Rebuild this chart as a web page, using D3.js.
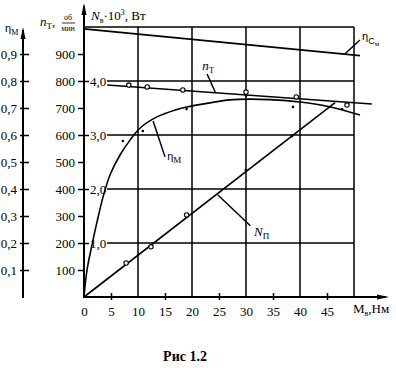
<!DOCTYPE html>
<html><head><meta charset="utf-8">
<script src="https://cdn.jsdelivr.net/npm/d3@7"></script>
<style>body{margin:0;background:#fff}svg{display:block}text{font-family:"Liberation Serif","Times New Roman",serif;fill:#000}</style>
</head><body><svg id="c" width="396" height="368"></svg>
<script>
// ---- data ----
const xTicks = [0,5,10,15,20,25,30,35,40,45];
const xGrid = [10,20,30,40,50];
const nTicks = [100,200,300,400,500,600,700,800,900];
const etaTicks = [0.1,0.2,0.3,0.4,0.5,0.6,0.7,0.8,0.9];
const pTicks = [1,2,3,4];
const pTickLabels = ["1,0","2,0","3,0","4,0"];
const etaTickLabels = ["0,1","0,2","0,3","0,4","0,5","0,6","0,7","0,8","0,9"];

// eta_M curve (M, eta)
const etaM_x = [0,0.56,1.48,2.41,3.52,4.81,6.67,8.52,10.4,13.5,16.9,19.1,23.3,27.0,30.7,34.4,40.0,45.6,51.1];
const etaM_y = [0,0.10,0.193,0.278,0.370,0.452,0.526,0.581,0.626,0.667,0.693,0.704,0.719,0.730,0.733,0.731,0.722,0.704,0.674];
// eta_M experimental points
const etaPts_x = [7.2,10.9,19.0,30.0,38.7,47.8];
const etaPts_y = [0.578,0.615,0.696,0.745,0.704,0.696];
// n_T line (M, rpm)
const nT_x = [4.3,53.3];
const nT_y = [785,715];
const nTPts_x = [8.3,11.7,18.3,30.0,39.3,48.7];
const nTPts_y = [785,778,767,759,741,711];
// N_P line (M, kW)
const NP_x = [0,46.5];
const NP_y = [0,3.6];
const NPcirc_x = [7.8,12.4,19.0];
const NPcirc_y = [0.63,0.93,1.52];
const NPdot_x = [30.0,38.5];
const NPdot_y = [2.35,2.98];
// eta_Cm line
const etaC_x = [0,51.1];
const etaC_y = [0.993,0.894];

// ---- scales ----
const svg = d3.select("#c");
const x = d3.scaleLinear([0,50],[84,354]);
const yN = d3.scaleLinear([0,1000],[297,27]);
const yE = d3.scaleLinear([0,1],[297,27]);
const yP = d3.scaleLinear([0,5],[297,27]);
const X0 = x(0), Y0 = yN(0);
const axE = 23;

const line = (xs, ys, ys2, curve) => d3.line().x((d,i)=>x(xs[i])).y((d,i)=>ys2(ys[i])).curve(curve||d3.curveLinear)(xs);

// grid
const g = svg.append("g").attr("stroke","#000").attr("stroke-width",1.5);
xGrid.forEach(v => g.append("line").attr("x1",x(v)).attr("x2",x(v)).attr("y1",Y0).attr("y2",yN(1000)));
g.append("line").attr("x1",X0).attr("x2",x(50)).attr("y1",yN(1000)).attr("y2",yN(1000));
pTicks.forEach(v => g.append("line").attr("x1",X0+23).attr("x2",x(50)).attr("y1",yP(v)).attr("y2",yP(v)));

// n_T axis (left, labels)
const aN = svg.append("g").attr("transform",`translate(${X0},0)`)
  .call(d3.axisLeft(yN).tickValues(nTicks).tickSize(6).tickPadding(3).tickFormat(d=>d));
aN.select(".domain").remove();
aN.selectAll("line").attr("stroke","#000").attr("stroke-width",1.5);
aN.selectAll("text").attr("font-size",13).style("font-family","Liberation Serif");
// N axis (right side ticks)
const aP = svg.append("g").attr("transform",`translate(${X0},0)`)
  .call(d3.axisRight(yP).tickValues(pTicks).tickSize(5).tickPadding(1).tickFormat((d,i)=>pTickLabels[i]));
aP.select(".domain").remove();
aP.selectAll("line").attr("stroke","#000").attr("stroke-width",1.5);
aP.selectAll("text").attr("font-size",13).style("font-family","Liberation Serif");

// eta axis
const aE = svg.append("g").attr("transform",`translate(${axE},0)`)
  .call(d3.axisLeft(yE).tickValues(etaTicks).tickSize(3).tickPadding(3).tickFormat((d,i)=>etaTickLabels[i]));
aE.select(".domain").remove();
aE.selectAll("line").attr("stroke","#000").attr("stroke-width",1.5).attr("x2",6).attr("x1",-3);
aE.selectAll("text").attr("font-size",13).style("font-family","Liberation Serif");

// x axis
const aX = svg.append("g").attr("transform",`translate(0,${Y0})`)
  .call(d3.axisBottom(x).tickValues(xTicks).tickSize(0).tickPadding(10).tickFormat(d=>d));
aX.select(".domain").remove();
aX.selectAll("text").attr("font-size",13).style("font-family","Liberation Serif");
aX.selectAll(".tick").each(function(d){ if(d%10===5) d3.select(this).append("line").attr("y1",-4).attr("y2",3).attr("stroke","#000").attr("stroke-width",1.5); });

// axis lines with arrows
const ax = svg.append("g").attr("stroke","#000").attr("stroke-width",2);
ax.append("line").attr("x1",X0).attr("x2",386).attr("y1",Y0).attr("y2",Y0);
ax.append("line").attr("x1",X0).attr("x2",X0).attr("y1",Y0+1).attr("y2",6);
ax.append("line").attr("x1",axE).attr("x2",axE).attr("y1",Y0+1).attr("y2",30);
const arrow = (pts) => svg.append("path").attr("d","M"+pts.join("L")+"Z").attr("fill","#000");
arrow([[389,Y0],[377,Y0-2.5],[377,Y0+2.5]]);
arrow([[X0,3],[X0-2.5,15],[X0+2.5,15]]);
arrow([[axE,27],[axE-2.5,39],[axE+2.5,39]]);

// curves
const c = svg.append("g").attr("fill","none").attr("stroke","#000").attr("stroke-width",1.6);
c.append("path").attr("d",line(etaC_x,etaC_y,yE));
c.append("path").attr("d",line(nT_x,nT_y,yN));
c.append("path").attr("d",line(NP_x,NP_y,yP));
c.append("path").attr("d",line(etaM_x,etaM_y,yE,d3.curveCatmullRom));

// points
const p = svg.append("g");
nTPts_x.forEach((v,i)=>p.append("circle").attr("cx",x(v)).attr("cy",yN(nTPts_y[i])).attr("r",2.2).attr("fill","#fff").attr("stroke","#000").attr("stroke-width",1.1));
NPcirc_x.forEach((v,i)=>p.append("circle").attr("cx",x(v)).attr("cy",yP(NPcirc_y[i])).attr("r",2.2).attr("fill","#fff").attr("stroke","#000").attr("stroke-width",1.1));
NPdot_x.forEach((v,i)=>p.append("circle").attr("cx",x(v)).attr("cy",yP(NPdot_y[i])).attr("r",1.5).attr("fill","#000"));
etaPts_x.forEach((v,i)=>p.append("circle").attr("cx",x(v)).attr("cy",yE(etaPts_y[i])).attr("r",1.3).attr("fill","#000"));

// leaders
const L = svg.append("g").attr("stroke","#000").attr("stroke-width",1.5);
L.append("line").attr("x1",x(22.8)).attr("y1",yN(826)).attr("x2",x(24.3)).attr("y2",yN(759));
L.append("line").attr("x1",x(12.8)).attr("y1",yE(0.652)).attr("x2",x(15.0)).attr("y2",yE(0.519));
L.append("line").attr("x1",x(24.8)).attr("y1",yP(1.89)).attr("x2",x(30.8)).attr("y2",yP(1.32));
L.append("line").attr("x1",x(48.3)).attr("y1",yE(0.90)).attr("x2",x(51.1)).attr("y2",yE(0.952));

// labels
function lab(px,py,parts){
  const t = svg.append("text").attr("x",px).attr("y",py).attr("font-size",13);
  parts.forEach(pt=>{
    const s = t.append("tspan").text(pt.t);
    if(pt.i) s.attr("font-style","italic");
    if(pt.dy) s.attr("dy",pt.dy);
    if(pt.fs) s.attr("font-size",pt.fs);
    if(pt.f) s.style("font-family",pt.f);
  });
  return t;
}
const SANS = "Liberation Sans";
lab(x(21.9),yN(841),[{t:"n",i:1},{t:"Т",dy:3,fs:9}]);
lab(x(15.4),yE(0.507),[{t:"η",f:SANS,fs:11},{t:"М",dy:3,fs:9}]);
lab(x(31.5),yP(1.13),[{t:"N",i:1},{t:"П",dy:3,fs:9}]);
lab(x(51.5),yE(0.952),[{t:"η",f:SANS,fs:11},{t:"C",dy:4,fs:9,f:SANS},{t:"м",dy:2,fs:7}]);
// axis titles
lab(5,32,[{t:"η",f:SANS,fs:11},{t:"М",dy:3,fs:8}]);
lab(91,20,[{t:"N",i:1},{t:"в",dy:3,fs:8},{t:"·10",dy:-3},{t:"3",dy:-5,fs:8},{t:", Вт",dy:5}]);
lab(40,26,[{t:"n",i:1},{t:"Т",dy:3,fs:9},{t:",",dy:-3}]);
svg.append("text").attr("x",68).attr("y",20).attr("text-anchor","middle").attr("font-size",8).text("об");
svg.append("line").attr("x1",62).attr("x2",75).attr("y1",23).attr("y2",23).attr("stroke","#000").attr("stroke-width",0.8);
svg.append("text").attr("x",68).attr("y",31).attr("text-anchor","middle").attr("font-size",8).text("мин");
lab(353,Y0+16,[{t:"М"},{t:"в",dy:3,fs:8},{t:",Нм",dy:-3}]);
svg.append("text").attr("x",185).attr("y",361).attr("text-anchor","middle").attr("font-size",14).attr("font-weight","bold").text("Рис 1.2");
</script></body></html>
